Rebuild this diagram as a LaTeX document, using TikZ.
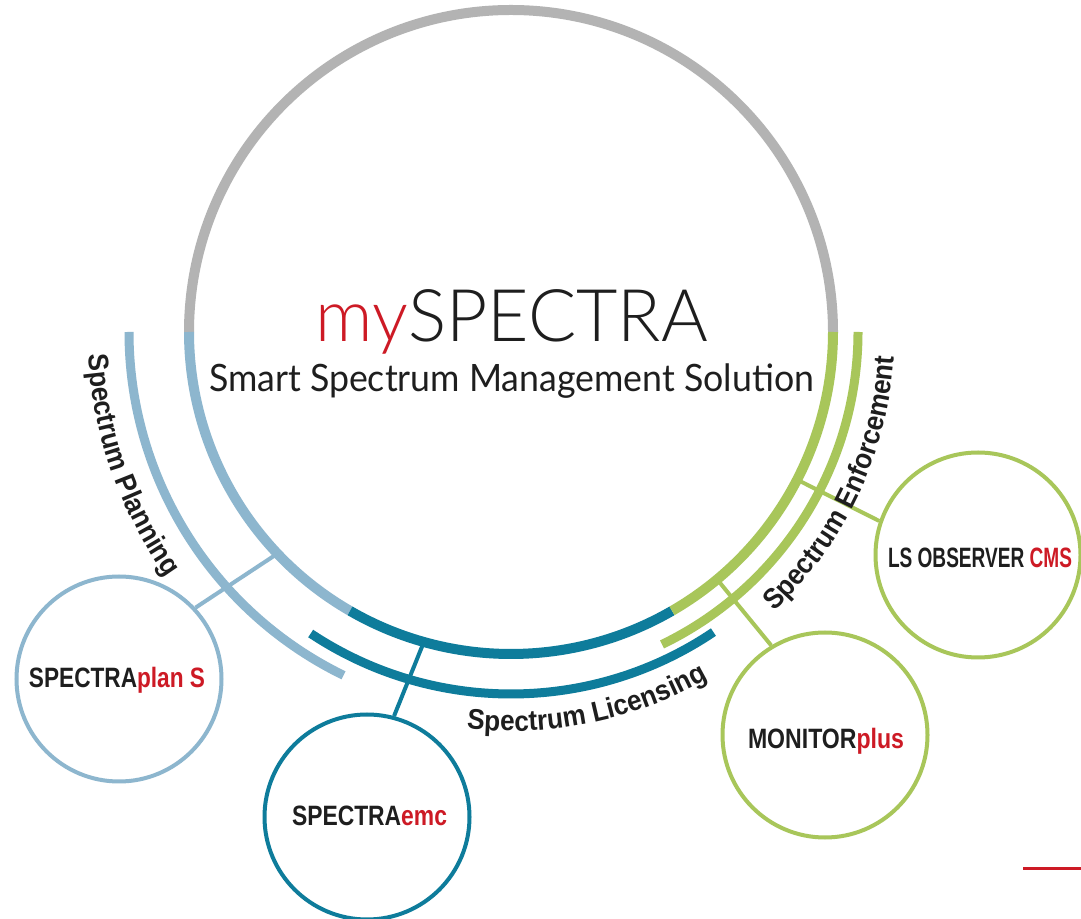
\documentclass[tikz,border=0pt]{standalone}
\usepackage{fontspec}
\usepackage{graphicx}
\usetikzlibrary{calc,decorations.text}
\definecolor{greyc}{HTML}{B3B3B3}
\definecolor{lblue}{HTML}{8DB6CE}
\definecolor{tealc}{HTML}{0E7C9B}
\definecolor{greenc}{HTML}{A8C65A}
\definecolor{redc}{HTML}{CD1A25}
\definecolor{darkc}{HTML}{1E1E1E}
\IfFontExistsTF{Lato Light}{\newfontfamily\titlefont{Lato Light}}{\newfontfamily\titlefont{Lato}}
\newfontfamily\subfont{Lato}
\newfontfamily\labfont{Liberation Sans}
\newfontfamily\arcfam[FakeStretch=0.92]{Liberation Sans}
\newcommand\arcfont{\arcfam\bfseries\fontsize{28.5}{31}\selectfont\color{darkc}}
\begin{document}
\begin{tikzpicture}[x=1pt,y=1pt,
  ring/.style={line width=10pt},
  outring/.style={line width=9pt},
  spoke/.style={line width=4pt},
  bub/.style={circle, draw, line width=4pt, minimum size=205pt, inner sep=0pt, fill=white},
  lab/.style={anchor=base, inner sep=0pt, text=darkc, font=\labfont\bfseries\fontsize{28}{30}\selectfont},
  arctext/.style={decorate, decoration={text along path, text align=center, text={|\arcfont|#1}}}
]
\useasboundingbox (0,0) rectangle (1081,918);
\fill[white] (0,0) rectangle (1081,918);
\coordinate (C) at (511,586);

% satellite circles
\node[bub, draw=lblue] (plan) at (119,239) {};
\node[bub, draw=tealc] (emc) at (367,101) {};
\node[bub, draw=greenc] (mon) at (825,183) {};
\node[bub, draw=greenc] (cms) at (978,363) {};

% spoke anchor points on the main ring
\coordinate (s1) at ($(C)+(223.5:322)$);
\coordinate (s2) at ($(C)+(254.3:322)$);
\coordinate (s3) at ($(C)+(309.8:322)$);
\coordinate (s4) at ($(C)+(332.7:322)$);

\draw[spoke, lblue] (s1) -- (plan.43);
\draw[spoke, tealc] (s2) -- (emc.75);
\draw[spoke, greenc] (s3) -- (mon.121);
\draw[spoke, greenc] (s4) -- (cms.161);

% main ring
\draw[ring, greyc] ($(C)+(0:322)$) arc[start angle=0, end angle=180, radius=322];
\draw[ring, lblue] ($(C)+(180:322)$) arc[start angle=180, end angle=240, radius=322];
\draw[ring, tealc] ($(C)+(240:322)$) arc[start angle=240, end angle=300, radius=322];
\draw[ring, greenc] ($(C)+(300:322)$) arc[start angle=300, end angle=360, radius=322];

% outer arcs
\draw[outring, lblue] ($(C)+(180:382)$) arc[start angle=180, end angle=244, radius=382];
\draw[outring, tealc] ($(C)+(236.4:362)$) arc[start angle=236.4, end angle=304, radius=362];
\draw[outring, greenc] ($(C)+(295.8:347)$) arc[start angle=295.8, end angle=360, radius=347];

% arc labels
\path[arctext={Spectrum Planning}] ($(C)+(177.25:423)$) arc[start angle=177.25, end angle=221.25, radius=423];
\path[arctext={Spectrum Licensing}] ($(C)+(259.6:399)$) arc[start angle=259.6, end angle=303.6, radius=399];
\path[arctext={Spectrum Enforcement}] ($(C)+(308.75:384)$) arc[start angle=308.75, end angle=360.75, radius=384];

% titles
\node[anchor=base, inner sep=0pt] (title) at (512,576)
  {\resizebox{392pt}{\height}{\titlefont\fontsize{72.6}{80}\selectfont\textcolor{redc}{my}\textcolor{darkc}{SPECTRA}}};
\node[anchor=base, inner sep=0pt] (sub) at (511.5,526)
  {\resizebox{605pt}{\height}{\subfont\fontsize{37.7}{40}\selectfont\color{darkc}Smart Spectrum Management Solution}};

% satellite labels
\node[lab] (planlab) at (117,230) {\resizebox{176pt}{\height}{SPECTRA\textcolor{redc}{plan S}}};
\node[lab] (emclab) at (369.5,92) {\resizebox{155pt}{\height}{SPECTRA\textcolor{redc}{emc}}};
\node[lab] (monlab) at (826,169) {\resizebox{156pt}{\height}{MONITOR\textcolor{redc}{plus}}};
\node[lab] (cmslab) at (980,350) {\resizebox{184pt}{\height}{LS OBSERVER \textcolor{redc}{CMS}}};

% red rule bottom right
\coordinate (r1) at (1023,50);
\coordinate (r2) at (1081,50);
\draw[redc, line width=3pt] (r1) -- (r2);
\end{tikzpicture}
\end{document}
